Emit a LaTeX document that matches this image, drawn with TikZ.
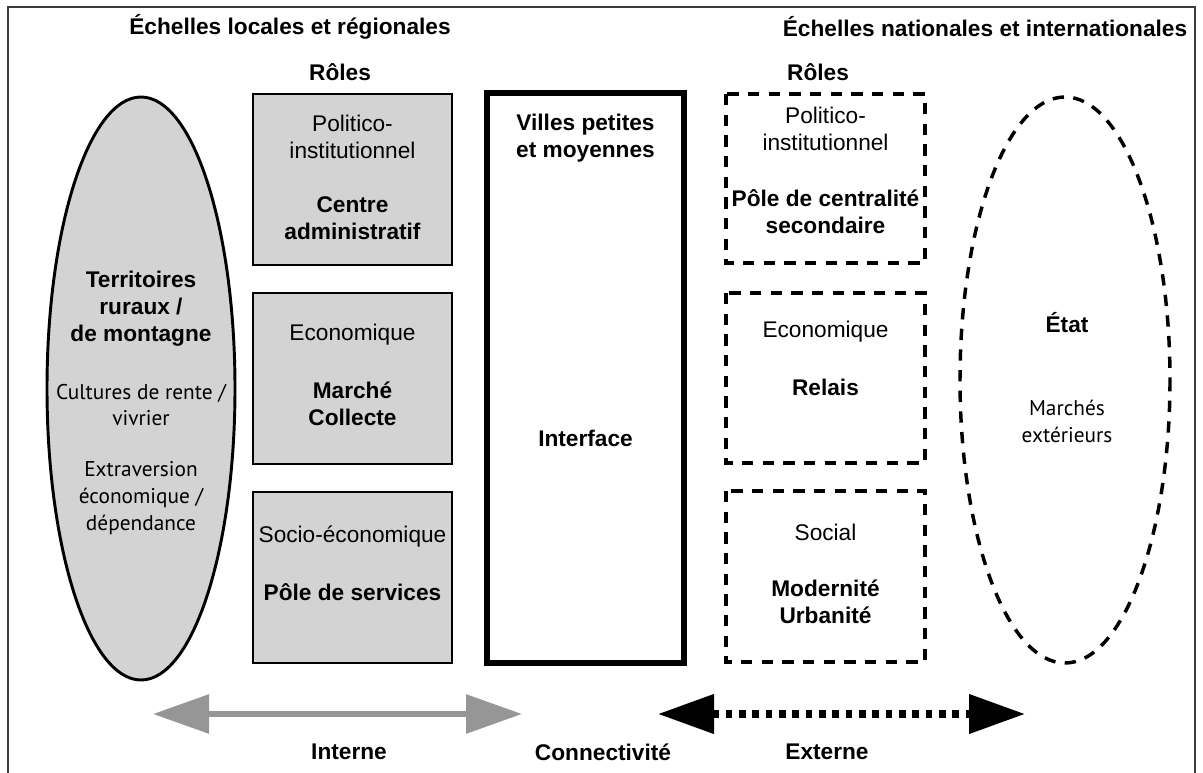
\documentclass[tikz,border=0pt]{standalone}
\usepackage{fontspec}
\setmainfont{Liberation Sans}
\newfontfamily\softsans{PT Sans}
\usetikzlibrary{arrows.meta}

\definecolor{boxgray}{RGB}{211,211,211}
\definecolor{arrowgray}{RGB}{150,150,150}
\definecolor{framegray}{RGB}{60,60,60}

\tikzset{
  graybox/.style={draw=black, fill=boxgray, line width=2.2pt},
  dashbox/.style={draw=black, line width=2.6pt, dash pattern={on 8.5pt off 7pt}},
  townbox/.style={draw=black, line width=4.5pt},
  txt/.style={inner sep=0pt, align=center, font=\fontsize{17}{20.25}\selectfont},
  btxt/.style={inner sep=0pt, align=center, font=\fontsize{17}{20.25}\selectfont\bfseries},
  stxt/.style={inner sep=0pt, align=center, font=\softsans\fontsize{16}{20}\selectfont},
  grayarrow/.style={draw=arrowgray, line width=4.5pt,
    {Triangle[length=42pt,width=28.5pt]}-{Triangle[length=42pt,width=28.5pt]}},
  blackarrow/.style={draw=black, line width=5.5pt, dash pattern={on 5pt off 5pt},
    {Triangle[length=42pt,width=28.5pt]}-{Triangle[length=42pt,width=28.5pt]}},
}

\begin{document}
\begin{tikzpicture}[x=0.75pt,y=0.75pt,yscale=-1,xscale=1]
\useasboundingbox (0,0) rectangle (1203,773);

%Frame
\draw [color=framegray, line width=1.2pt] (8,790) -- (8,7) -- (1195,7) -- (1195,790);

%Shape: Ellipse (local territories)
\draw [graybox] (141,388.5) ellipse [x radius=94, y radius=291.5];
%Shape: Ellipse (state)
\draw [dashbox] (1065,380) ellipse [x radius=105, y radius=283];

%Shape: Rectangles (local roles)
\draw [graybox] (253,94) rectangle (452,265);
\draw [graybox] (253,293) rectangle (452,464);
\draw [graybox] (253,492) rectangle (452,663);
%Shape: Rectangle (towns)
\draw [townbox] (487,93) rectangle (684,663);
%Shape: Rectangles (national roles)
\draw [dashbox] (726,94) rectangle (925,263);
\draw [dashbox] (726,293) rectangle (925,463);
\draw [dashbox] (726,491) rectangle (925,662);

%Arrows
\coordinate (intL) at (153,714);
\coordinate (intR) at (522,714);
\coordinate (extL) at (658,714);
\coordinate (extR) at (1025,714);
\draw [grayarrow] (intL) -- (intR);
\draw [blackarrow] (extL) -- (extR);

% Text Node
\node [btxt] (titleLocal) at (290,27) {Échelles locales et régionales};
% Text Node
\node [btxt] (titleNational) at (985,27) {Échelles nationales et internationales};
% Text Node
\node [btxt] (rolesLocal) at (340,72) {Rôles};
% Text Node
\node [btxt] (rolesNational) at (818,72) {Rôles};

% Text Node
\node [btxt] (rural) at (141,308.5) {Territoires\\ruraux /\\de montagne};
% Text Node
\node [stxt] (cultures) at (141,405) {Cultures de rente /\\vivrier};
% Text Node
\node [stxt] (extraversion) at (141,498) {Extraversion\\économique /\\dépendance};

% Text Node
\node [txt] (polLocal) at (352.5,136.5) {Politico-\\institutionnel};
% Text Node
\node [btxt] (centreAdmin) at (352.5,218.5) {Centre\\administratif};
% Text Node
\node [txt] (ecoLocal) at (352.5,335) {Economique};
% Text Node
\node [btxt] (marche) at (352.5,403.5) {Marché\\Collecte};
% Text Node
\node [txt] (socioLocal) at (352.5,537) {Socio-économique};
% Text Node
\node [btxt] (services) at (352.5,592) {Pôle de services};

% Text Node
\node [btxt] (villes) at (585.5,138.5) {Villes petites\\et moyennes};
% Text Node
\node [btxt] (interface) at (585.5,438) {Interface};

% Text Node
\node [txt] (polNational) at (825.5,129) {Politico-\\institutionnel};
% Text Node
\node [btxt] (centralite) at (825.5,211.5) {Pôle de centralité\\secondaire};
% Text Node
\node [txt] (ecoNational) at (825.5,332) {Economique};
% Text Node
\node [btxt] (relais) at (825.5,387) {Relais};
% Text Node
\node [txt] (social) at (825.5,532) {Social};
% Text Node
\node [btxt] (modernite) at (825.5,601.5) {Modernité\\Urbanité};

% Text Node
\node [btxt] (etat) at (1067,323) {État};
% Text Node
\node [stxt] (marches) at (1067,421.5) {Marchés\\extérieurs};

% Text Node
\node [btxt] (interne) at (349,752) {Interne};
% Text Node
\node [btxt] (connect) at (603,752) {Connectivité};
% Text Node
\node [btxt] (externe) at (827,752) {Externe};

\end{tikzpicture}
\end{document}
